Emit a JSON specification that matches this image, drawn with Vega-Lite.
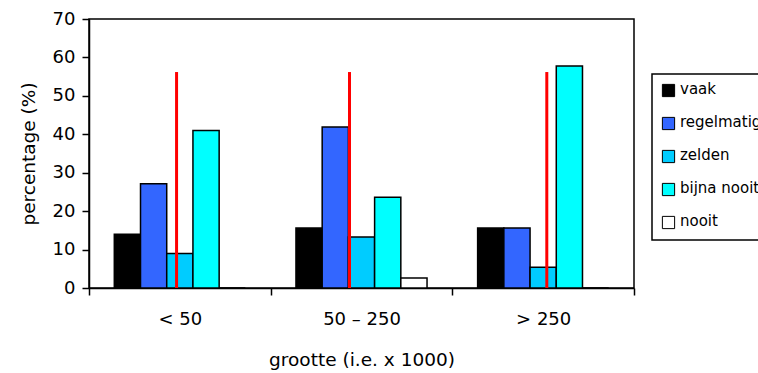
{
  "$schema": "https://vega.github.io/schema/vega-lite/v6.json",
  "width": 545,
  "height": 269,
  "autosize": {"type": "none"},
  "padding": {"left": 89, "top": 19, "right": 124, "bottom": 85},
  "background": "white",
  "config": {
    "font": "DejaVu Sans",
    "view": {"stroke": "black", "strokeWidth": 1.5},
    "axis": {
      "grid": false,
      "tickSize": 7,
      "tickWidth": 1.5,
      "tickColor": "black",
      "domainColor": "black",
      "domainWidth": 1.5,
      "labelFont": "DejaVu Sans",
      "labelFontSize": 18,
      "labelColor": "black",
      "titleFont": "DejaVu Sans",
      "titleFontSize": 18.5,
      "titleFontWeight": "normal",
      "titleColor": "black"
    }
  },
  "datasets": {
    "staven": [
      {"grootte": "< 50", "frequentie": "vaak", "percentage": 14.0},
      {"grootte": "< 50", "frequentie": "regelmatig", "percentage": 27.1},
      {"grootte": "< 50", "frequentie": "zelden", "percentage": 9.0},
      {"grootte": "< 50", "frequentie": "bijna nooit", "percentage": 41.0},
      {"grootte": "< 50", "frequentie": "nooit", "percentage": 0},
      {"grootte": "50 – 250", "frequentie": "vaak", "percentage": 15.6},
      {"grootte": "50 – 250", "frequentie": "regelmatig", "percentage": 41.9},
      {"grootte": "50 – 250", "frequentie": "zelden", "percentage": 13.3},
      {"grootte": "50 – 250", "frequentie": "bijna nooit", "percentage": 23.6},
      {"grootte": "50 – 250", "frequentie": "nooit", "percentage": 2.6},
      {"grootte": "> 250", "frequentie": "vaak", "percentage": 15.6},
      {"grootte": "> 250", "frequentie": "regelmatig", "percentage": 15.6},
      {"grootte": "> 250", "frequentie": "zelden", "percentage": 5.4},
      {"grootte": "> 250", "frequentie": "bijna nooit", "percentage": 57.8},
      {"grootte": "> 250", "frequentie": "nooit", "percentage": 0}
    ],
    "lijnen": [
      {"grootte": "< 50", "positie": 0.482, "hoogte": 56.2},
      {"grootte": "50 – 250", "positie": 0.434, "hoogte": 56.2},
      {"grootte": "> 250", "positie": 0.52, "hoogte": 56.2}
    ]
  },
  "layer": [
    {
      "data": {"name": "staven"},
      "mark": {"type": "bar", "stroke": "black", "strokeWidth": 1.5},
      "encoding": {
        "x": {
          "field": "grootte",
          "type": "nominal",
          "sort": ["< 50", "50 – 250", "> 250"],
          "scale": {"paddingInner": 0, "paddingOuter": 0},
          "axis": {
            "title": "grootte (i.e. x 1000)",
            "labelAngle": 0,
            "tickBand": "extent",
            "labelPadding": 15,
            "titlePadding": 22
          }
        },
        "xOffset": {
          "field": "frequentie",
          "type": "nominal",
          "sort": ["vaak", "regelmatig", "zelden", "bijna nooit", "nooit"],
          "scale": {"paddingInner": 0, "paddingOuter": 0.965}
        },
        "y": {
          "field": "percentage",
          "type": "quantitative",
          "scale": {"domain": [0, 70], "nice": false},
          "axis": {
            "title": "percentage (%)",
            "values": [0, 10, 20, 30, 40, 50, 60, 70],
            "labelPadding": 7,
            "titlePadding": 14
          }
        },
        "color": {
          "field": "frequentie",
          "type": "nominal",
          "scale": {
            "domain": ["vaak", "regelmatig", "zelden", "bijna nooit", "nooit"],
            "range": ["#000000", "#3366FF", "#00CCFF", "#00FFFF", "#FFFFFF"]
          },
          "legend": {
            "title": null,
            "orient": "none",
            "legendX": 563,
            "legendY": 55,
            "strokeColor": "black",
            "fillColor": "white",
            "padding": 9,
            "symbolType": "square",
            "symbolSize": 150,
            "symbolStrokeColor": "black",
            "symbolStrokeWidth": 1,
            "symbolOpacity": 1,
            "labelFont": "DejaVu Sans",
            "labelFontSize": 15,
            "labelColor": "black",
            "labelOffset": 4,
            "rowPadding": 15,
            "labelLimit": 200,
            "encode": {
              "legend": {"update": {"strokeWidth": {"value": 1.5}}},
              "labels": {"update": {"dy": {"value": -2}}}
            }
          }
        }
      }
    },
    {
      "data": {"name": "lijnen"},
      "mark": {"type": "rule", "color": "#FF0000", "strokeWidth": 3},
      "encoding": {
        "x": {
          "field": "grootte",
          "type": "nominal",
          "sort": ["< 50", "50 – 250", "> 250"],
          "axis": {
            "title": "grootte (i.e. x 1000)",
            "labelAngle": 0,
            "tickBand": "extent",
            "labelPadding": 15,
            "titlePadding": 22
          }
        },
        "xOffset": {"field": "positie", "type": "quantitative", "scale": {"domain": [0, 1]}},
        "y": {
          "field": "hoogte",
          "type": "quantitative",
          "axis": {
            "title": "percentage (%)",
            "values": [0, 10, 20, 30, 40, 50, 60, 70],
            "labelPadding": 7,
            "titlePadding": 14
          }
        },
        "y2": {"datum": 0}
      }
    }
  ],
  "resolve": {"scale": {"xOffset": "independent"}}
}
